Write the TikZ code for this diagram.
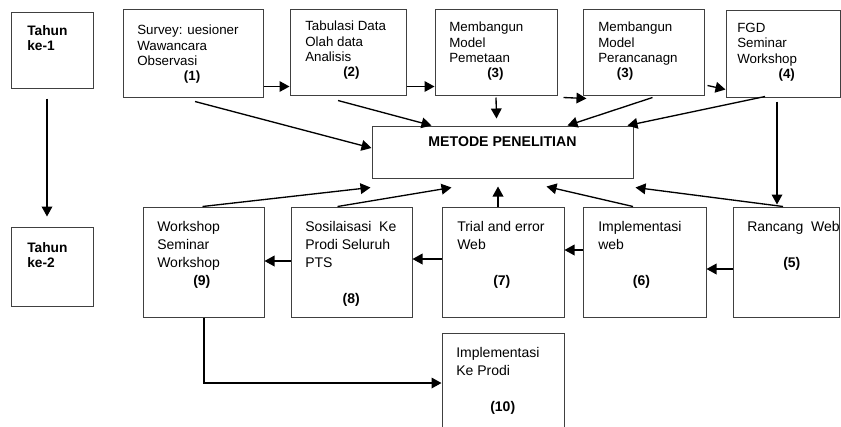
\documentclass[tikz,border=0pt]{standalone}
\usepackage{fontspec}
\setmainfont{Liberation Sans}
\usetikzlibrary{arrows.meta,fit}

\tikzset{
  kotak/.style={draw=black!75, line width=0.75pt, inner sep=0pt},
  isi/.style={anchor=north west, align=left, inner sep=0pt, font=\fontsize{10}{11.5}\selectfont},
  isibawah/.style={isi, font=\fontsize{10.5}{13.5}\selectfont},
  tahun/.style={isi, font=\fontsize{10.3}{11.25}\selectfont\bfseries},
  panah/.style={-{Triangle[length=7.5pt,width=8pt]}, line width=1pt}
}

\begin{document}
\begin{tikzpicture}[x=0.75pt, y=-0.75pt]
  \useasboundingbox (0,0) rectangle (841,426);
  % kotak tahun
  \node[kotak, fit={(11,12) (93,88)}] (th1) {};
  \node[kotak, fit={(11,227) (93,306)}] (th2) {};
  \node[tahun] (tt1) at (27,25) {Tahun\\ke-1};
  \node[tahun] (tt2) at (27,242) {Tahun\\ke-2};
  % baris atas
  \node[kotak, fit={(123,9) (263,97)}] (b1) {};
  \node[kotak, fit={(290,9) (406,95)}] (b2) {};
  \node[kotak, fit={(435,9) (557,95)}] (b3) {};
  \node[kotak, fit={(583,9) (704,95)}] (b3b) {};
  \node[kotak, fit={(726,10) (840,97)}] (b4) {};
  \node[isi] (t1) at (137,25) {Survey: uesioner\\Wawancara\\Observasi\\\hspace*{35pt}\textbf{(1)}};
  \node[isi] (t2) at (305,21) {Tabulasi Data\\Olah data\\Analisis\\\hspace*{28.5pt}\textbf{(2)}};
  \node[isi] (t3) at (449,22) {Membangun\\Model\\Pemetaan\\\hspace*{28.5pt}\textbf{(3)}};
  \node[isi] (t3b) at (598,22) {Membangun\\Model\\Perancanagn\\\hspace*{14pt}\textbf{(3)}};
  \node[isi] (t4) at (737,23) {FGD\\Seminar\\Workshop\\\hspace*{31pt}\textbf{(4)}};
  % metode
  \node[kotak, fit={(372,126) (633,178)}] (M) {};
  \node[font=\fontsize{10.6}{12}\selectfont\bfseries] (mt) at (502.5,142) {METODE PENELITIAN};
  % baris bawah
  \node[kotak, fit={(143,207) (264,317)}] (b9) {};
  \node[kotak, fit={(291,207) (412,317)}] (b8) {};
  \node[kotak, fit={(442,207) (564,317)}] (b7) {};
  \node[kotak, fit={(583,207) (706,317)}] (b6) {};
  \node[kotak, fit={(733,207) (839,317)}] (b5) {};
  \node[kotak, fit={(442,333) (564,440)}] (b10) {};
  \node[isibawah] (t9) at (157,221) {Workshop\\Seminar\\Workshop\\\hspace*{27pt}\textbf{(9)}};
  \node[isibawah] (t8) at (305,221) {Sosilaisasi~ Ke\\Prodi Seluruh\\PTS\\~\\\hspace*{28pt}\textbf{(8)}};
  \node[isibawah] (t7) at (457,221) {Trial and error\\Web\\~\\\hspace*{27pt}\textbf{(7)}};
  \node[isibawah] (t6) at (598,221) {Implementasi\\web\\~\\\hspace*{26pt}\textbf{(6)}};
  \node[isibawah] (t5) at (747,221) {Rancang~ Web\\~\\\hspace*{27pt}\textbf{(5)}};
  \node[isibawah] (t10) at (456,347) {Implementasi\\Ke Prodi\\~\\\hspace*{25.5pt}\textbf{(10)}};

  \path[panah]
  ([shift={(-5,10)}]th1.south) edge ([shift={(-5,-10)}]th2.north)
  ([shift={(0,-11)}]b1.south east) edge ([shift={(0,-9)}]b2.south west)
  ([shift={(0,-9)}]b2.south east) edge ([shift={(0,-9)}]b3.south west)
  ([shift={(6,2)}]b3.south east) edge ([shift={(4,3)}]b3b.south west)
  ([shift={(3,-10)}]b3b.south east) edge ([shift={(0,-8)}]b4.south west)
  ([shift={(2,4)}]b1.south) edge ([shift={(0,-4)}]M.west)
  ([shift={(-10,5)}]b2.south) edge ([shift={(60,0)}]M.north west)
  ([shift={(0,2)}]b3.south) edge ([shift={(-6,-7)}]M.north)
  ([shift={(9,2)}]b3b.south) edge ([shift={(196,0)}]M.north west)
  ([shift={(-18,-1)}]b4.south) edge ([shift={(-6,0)}]M.north east)
  ([shift={(-6,4)}]b4.south) edge ([shift={(-9,-2)}]b5.north)
  ([shift={(-1,0)}]b9.north) edge ([shift={(-1,9)}]M.south west)
  ([shift={(-14,0)}]b8.north) edge ([shift={(80,9)}]M.south west)
  ([shift={(-5,0)}]b7.north) edge ([shift={(-4.5,8)}]M.south)
  ([shift={(-11.5,0)}]b6.north) edge ([shift={(175,8)}]M.south west)
  ([shift={(-3,0)}]b5.north) edge ([shift={(2,9)}]M.south east)
  ([shift={(0,7)}]b5.west) edge ([shift={(0,7)}]b6.east)
  ([shift={(0,-12)}]b6.west) edge ([shift={(0,-12)}]b7.east)
  ([shift={(0,-3)}]b7.west) edge ([shift={(0,-3)}]b8.east)
  ([shift={(0,-1)}]b8.west) edge ([shift={(0,-1)}]b9.east)
  ;
  \draw[panah] ([shift={(0.5,0)}]b9.south) |- ([shift={(0,-3.5)}]b10.west);
\end{tikzpicture}
\end{document}
